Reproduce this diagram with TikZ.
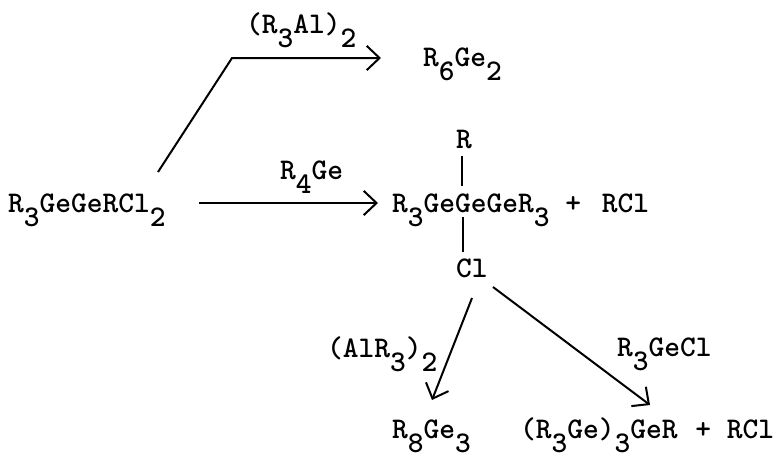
\documentclass[tikz,border=0pt]{standalone}
\usetikzlibrary{arrows.meta,positioning,calc}
\newcommand{\sub}[1]{\raisebox{-14.5pt}[0pt][0pt]{#1}}
\begin{document}
\begin{tikzpicture}[x=1pt,y=-1pt,font=\fontsize{30}{34}\selectfont\ttfamily\bfseries,
  lbl/.style={inner sep=0pt,anchor=base west},
  arr/.style={-{Straight Barb[length=4.5mm,width=8.5mm]},line width=2pt},
  bond/.style={line width=2pt}]
\useasboundingbox (0,0) rectangle (778,456);
\node[lbl] (start) at (8,212) {R\sub{3}GeGeRCl\sub{2}};
\node[lbl] (dimer) at (423,66) {R\sub{6}Ge\sub{2}};
\node[lbl] (mid) at (392,212) {R\sub{3}GeGeGeR\sub{3} +\hspace{5pt} RCl};
\node[lbl] (topr) at (456,148) {R};
\node[lbl] (cl) at (456,277) {Cl};
\node[lbl] (trimer) at (392,438) {R\sub{8}Ge\sub{3}};
\node[lbl] (chain) at (520,438) {(R\sub{3}Ge)\sub{3}GeR\hspace{2pt} + RCl};
\node[lbl] (alkyl) at (246,33) {(R\sub{3}Al)\sub{2}};
\node[lbl] (germ) at (280,179) {R\sub{4}Ge};
\node[lbl] (alr) at (327,357) {(AlR\sub{3})\sub{2}};
\node[lbl] (gecl) at (617,356) {R\sub{3}GeCl};
\coordinate (bend) at (232,58);
\coordinate (upfoot) at (158,172);
\coordinate (upend) at (381,58);
\coordinate (midfoot) at (199,203);
\coordinate (midend) at (378,203);
\coordinate (bondtop) at (462,156);
\coordinate (bondtopb) at (462,186);
\coordinate (bondbot) at (463,217);
\coordinate (bondbotb) at (463,252);
\coordinate (d1s) at (472,298);
\coordinate (d1e) at (432,400);
\coordinate (d2s) at (493,287);
\coordinate (d2e) at (650,405);
\draw[arr] (upfoot) -- (bend) -- (upend);
\draw[arr] (midfoot) -- (midend);
\draw[bond] (bondtop) -- (bondtopb);
\draw[bond] (bondbot) -- (bondbotb);
\draw[arr] (d1s) -- (d1e);
\draw[arr] (d2s) -- (d2e);
\end{tikzpicture}
\end{document}
